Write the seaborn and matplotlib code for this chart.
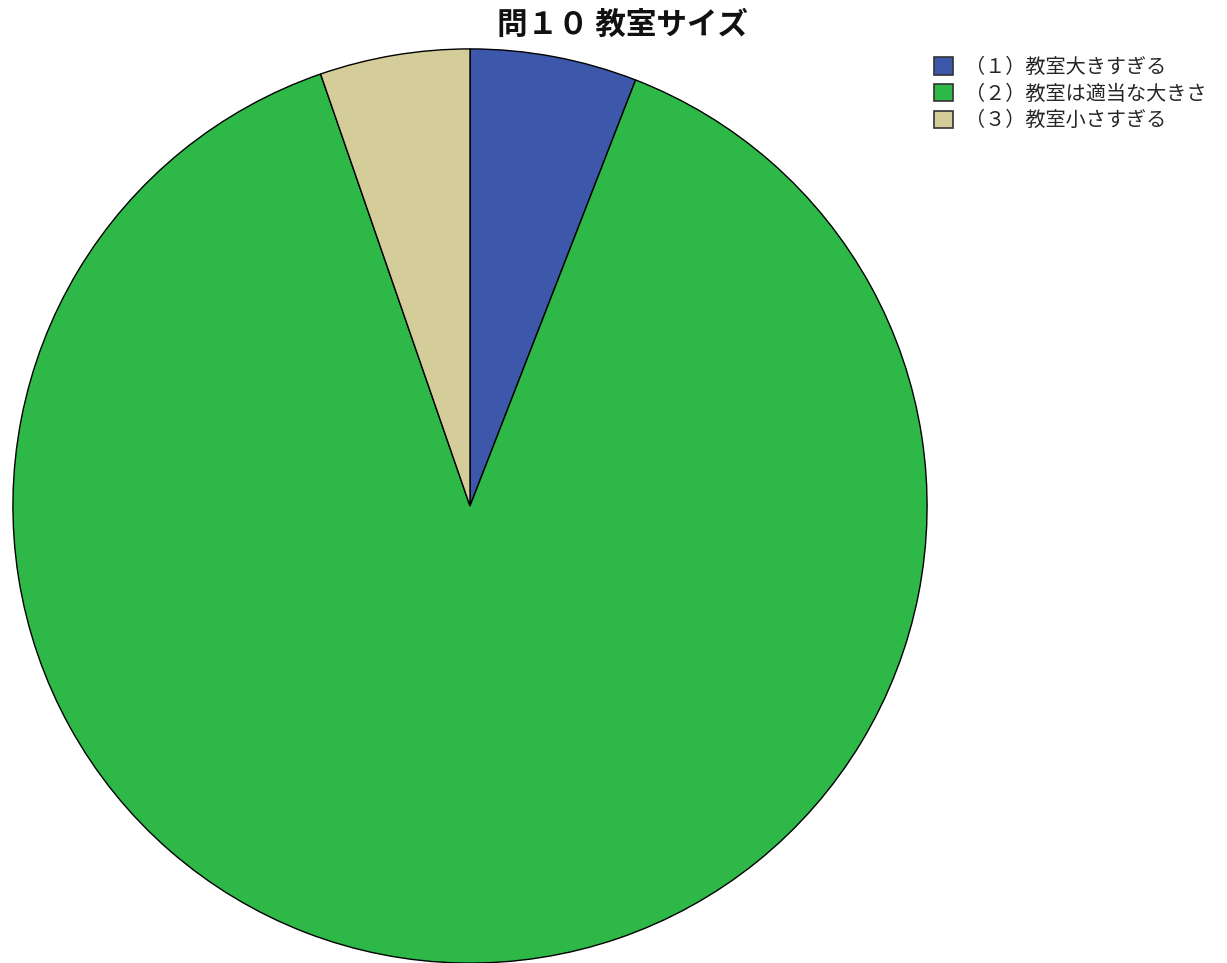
import matplotlib
matplotlib.use("Agg")
import matplotlib.pyplot as plt
import matplotlib.patches as mpatches
import seaborn as sns

# Survey answers, share of respondents (%)
categories = ["（１）教室大きすぎる", "（２）教室は適当な大きさ", "（３）教室小さすぎる"]
shares = [5.9, 88.8, 5.3]
colors = ["#3d58ab", "#2eb848", "#d4cd99"]
title = "問１０ 教室サイズ"

sns.set_theme(style="white")
plt.rcParams["font.family"] = ["Noto Sans CJK JP", "DejaVu Sans"]

fig = plt.figure(figsize=(12.27, 9.63), dpi=100)

# Pie area in pixels: center ~ (470, 506), radius ~ 458
W, H = 1227, 963
cx, cy, r = 470, 506, 458
ax = fig.add_axes([(cx - r) / W, (H - cy - r) / H, 2 * r / W, 2 * r / H])

# clockwise from 12 o'clock
ax.pie(
    shares,
    colors=colors,
    startangle=90,
    counterclock=False,
    radius=1.0,
    wedgeprops=dict(edgecolor="black", linewidth=1.0),
)
ax.set_xlim(-1.002, 1.002)
ax.set_ylim(-1.002, 1.002)
ax.set_aspect("equal")
ax.axis("off")

fig.text(622 / W, 1 - 25 / H, title, ha="center", va="center",
         fontsize=22, fontweight="bold", color="#111111")

handles = [mpatches.Patch(facecolor=c, edgecolor="#333333", linewidth=1.2, label=lab)
           for c, lab in zip(colors, categories)]
fig.legend(
    handles=handles,
    loc="upper left",
    bbox_to_anchor=(926 / W, 1 - 49 / H),
    frameon=False,
    fontsize=14.5,
    handlelength=0.95,
    handleheight=0.95,
    handletextpad=0.6,
    labelspacing=0.28,
    borderaxespad=0,
)

fig.savefig("out.png", dpi=100, facecolor="white")
